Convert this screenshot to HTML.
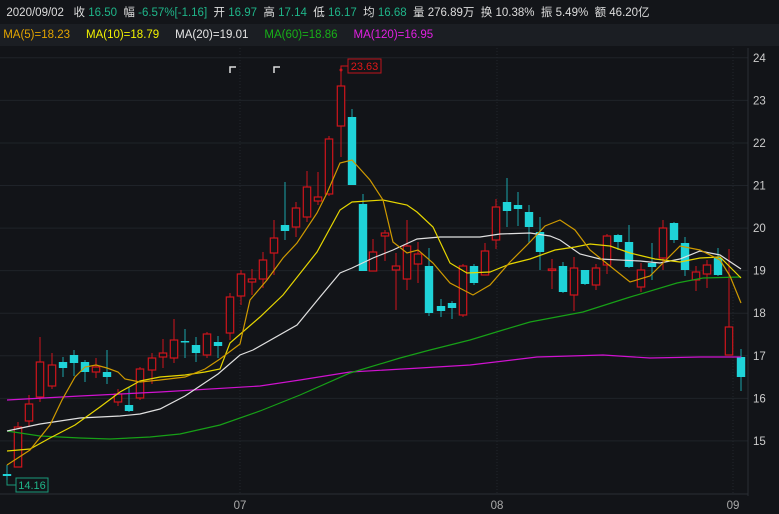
<!DOCTYPE html>
<html><head><meta charset="utf-8"><style>
body{margin:0;background:#121418;width:779px;height:514px;overflow:hidden;font-family:"Liberation Sans","Noto Sans CJK SC",sans-serif}
.h1{position:absolute;left:0;top:0;width:779px;height:24px;background:#131519;color:#ddd;font-size:11.5px;line-height:26px;white-space:nowrap}
.h2{position:absolute;left:0;top:24px;width:779px;height:22px;background:#1b1e23;font-size:11.5px;line-height:22px;white-space:nowrap}
.g{color:#1fb589}
</style></head><body>
<div class="h1">&nbsp;&nbsp;2020/09/02&nbsp;&nbsp; 收 <span class="g">16.50</span>&nbsp; 幅 <span class="g">-6.57%[-1.16]</span>&nbsp; 开 <span class="g">16.97</span>&nbsp; 高 <span class="g">17.14</span>&nbsp; 低 <span class="g">16.17</span>&nbsp; 均 <span class="g">16.68</span>&nbsp; 量 276.89万&nbsp; 换 10.38%&nbsp; 振 5.49%&nbsp; 额 46.20亿</div>
<div class="h2"><span style="color:#e3a400">&nbsp;MA(5)=18.23</span>&nbsp;&nbsp;&nbsp;&nbsp; <span style="color:#f2f200">MA(10)=18.79</span>&nbsp;&nbsp;&nbsp;&nbsp; <span style="color:#e6e6e6">MA(20)=19.01</span>&nbsp;&nbsp;&nbsp;&nbsp; <span style="color:#18b018">MA(60)=18.86</span>&nbsp;&nbsp;&nbsp;&nbsp; <span style="color:#e020e0">MA(120)=16.95</span></div>
<svg id="s" width="779" height="514" style="position:absolute;left:0;top:0" xmlns="http://www.w3.org/2000/svg"></svg>
<script>
var s='';
function Y(p){return 57.8+(24-p)*42.57;}
for(var p=15;p<=24;p++){var y=Y(p);s+='<line x1="0" x2="748" y1="'+y+'" y2="'+y+'" stroke="#1f2329"/>';s+='<text x="753" y="'+(y+4)+'" fill="#ccc" font-size="11.5">'+p+'</text>';}
s+='<line x1="748" x2="748" y1="48" y2="496" stroke="#2a2e35"/>';
s+='<line x1="0" x2="748" y1="494" y2="494" stroke="#2a2e35"/>';
[[240,'07'],[497,'08'],[733,'09']].forEach(function(a){s+='<line x1="'+a[0]+'" x2="'+a[0]+'" y1="48" y2="494" stroke="#22262c" stroke-dasharray="1,2"/><text x="'+a[0]+'" y="509" fill="#aaa" font-size="11.5" text-anchor="middle">'+a[1]+'</text>';});
var c=[[7,0,474,476,465,480],[18,1,427,467,422,467],[29,1,404,421,395,426],[40,1,362,397,337,402],[52,1,365,386,353,389],[63,0,362,368,357,377],[74,0,355,363,350,376],[85,0,362,372,360,382],[96,1,367,372,358,378],[107,0,372,377,350,384],[118,1,394,402,389,406],[129,0,405,411,387,412],[140,1,369,398,367,400],[152,1,358,370,353,384],[163,1,353,357,339,368],[174,1,340,358,319,363],[185,0,341,342,329,358],[196,0,345,353,337,362],[207,1,334,355,332,358],[218,0,342,346,336,358],[230,1,297,333,293,340],[241,1,274,296,270,305],[252,1,279,282,269,295],[263,1,260,279,252,288],[274,1,238,253,220,275],[285,0,225,231,182,240],[296,1,208,227,202,237],[307,1,187,217,171,222],[318,1,197,201,172,205],[329,1,139,194,136,196],[341,1,86,126,70,157],[352,0,117,185,109,185],[363,0,204,271,194,271],[373,1,252,271,239,271],[385,1,233,236,230,261],[396,1,266,270,253,310],[407,1,246,279,220,290],[418,1,254,264,242,283],[429,0,266,313,248,316],[441,0,306,311,299,317],[452,0,303,308,301,319],[463,1,266,315,264,317],[474,0,266,283,264,285],[485,1,251,275,243,275],[496,1,207,240,199,249],[507,0,202,211,178,227],[518,0,205,209,192,226],[529,0,212,227,205,243],[540,0,232,252,217,270],[552,1,269,270,259,289],[563,0,266,292,262,293],[574,1,268,295,257,311],[585,0,270,284,270,285],[596,1,268,285,264,290],[607,1,236,265,234,274],[618,0,235,242,234,250],[629,0,242,267,225,268],[641,1,270,287,263,292],[652,0,263,267,243,280],[663,1,228,258,220,270],[674,0,223,240,222,243],[685,0,243,270,237,276],[696,1,272,280,266,291],[707,1,265,274,260,288],[718,0,258,275,248,276],[729,1,327,355,249,355],[741,0,357,377,349,391]];
c.forEach(function(k){var x=k[0],w=7.4,h=Math.max(k[3]-k[2],1.5);
if(k[1]){s+='<line x1="'+x+'" x2="'+x+'" y1="'+k[4]+'" y2="'+k[5]+'" stroke="#d0141c" stroke-width="1"/>';s+='<rect x="'+(x-w/2)+'" y="'+k[2]+'" width="'+w+'" height="'+h+'" fill="#121418" stroke="#d0141c" stroke-width="1.2"/>';}
else{s+='<line x1="'+x+'" x2="'+x+'" y1="'+k[4]+'" y2="'+k[5]+'" stroke="#1aa5aa" stroke-width="1"/>';s+='<rect x="'+(x-w/2-0.5)+'" y="'+k[2]+'" width="'+(w+1)+'" height="'+h+'" fill="#1fd3d8"/>';}});
function L(col,pts){s+='<polyline fill="none" stroke="'+col+'" stroke-width="1.2" points="'+pts+'"/>';}
L('#d012d0','7,400 80,396 160,392 260,386 300,380 350,372 420,368 470,365 537,357 603,355 650,358 700,357 741,357');
L('#17a017','7,431 40,436 80,438 110,439 150,437 180,434 220,425 260,411 300,395 350,373 400,358 430,350 470,340 503,330 530,322 583,312 627,298 677,283 703,278 741,277');
L('#e0e0e0','7,431 40,424 80,418 120,416 140,414 160,409 185,396 218,374 240,355 253,350 297,325 320,297 340,273 352,268 373,258 393,250 417,239 440,237 480,237 500,234 530,233 550,236 560,240 580,254 600,259 640,261 660,263 680,259 700,251 720,255 741,269');
L('#e6d600','7,451 30,449 50,438 75,425 100,407 120,392 140,381 160,377 185,375 205,372 220,369 230,343 260,317 283,295 317,252 340,210 352,202 383,200 407,205 417,212 433,227 450,263 467,273 490,272 510,264 530,259 555,250 575,247 590,244 610,246 630,253 655,259 680,262 700,258 720,257 741,278');
L('#cf9a00','7,465 30,450 50,425 62,400 75,377 85,367 96,365 107,368 118,372 125,379 140,382 160,380 185,377 205,369 220,359 240,344 250,300 267,280 283,258 297,243 317,213 327,193 340,163 352,160 370,180 383,200 393,242 407,253 418,250 433,263 450,283 473,295 490,285 510,262 530,242 545,226 560,220 575,230 590,250 610,266 630,282 650,276 680,246 700,250 720,260 730,276 741,303');
s+='<polyline fill="none" stroke="#d0141c" points="341,70 341,66 348,66"/><circle cx="341" cy="70" r="1.5" fill="#d0141c"/><rect x="348" y="59" width="33" height="14" fill="none" stroke="#c0141c"/><text x="364.5" y="70" fill="#e01818" font-size="11" text-anchor="middle">23.63</text>';
s+='<polyline fill="none" stroke="#1a9a7a" points="7,480 7,485 16,485"/><rect x="16" y="478" width="32" height="14" fill="none" stroke="#1a9a7a"/><text x="32" y="489" fill="#1fb589" font-size="11" text-anchor="middle">14.16</text>';
s+='<polyline fill="none" stroke="#ddd" stroke-width="1.5" points="230,73 230,67 236,67"/><polyline fill="none" stroke="#ddd" stroke-width="1.5" points="274,73 274,67 280,67"/>';
document.getElementById('s').innerHTML=s;
</script>
</body></html>
